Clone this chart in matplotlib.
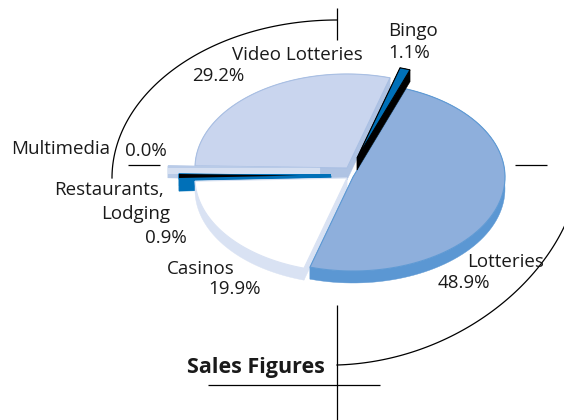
import matplotlib
matplotlib.use('Agg')
import matplotlib.pyplot as plt
import numpy as np

from matplotlib.patches import Polygon

# clockwise from the Lotteries slice
categories = ['Lotteries', 'Casinos', 'Restaurants', 'Multimedia', 'Video Lotteries', 'Bingo']
shares = [48.9, 19.9, 0.9, 0.0, 29.2, 1.1]

W, H = 564, 420
RX, RY, DEPTH = 152, 94, 12
START = 69.6

# slice -> (apex x, apex y, top colour, side colour, rim colour)
looks = {
    'Lotteries': (353, 177, '#8eafdc', '#5b97d3', '#5f9ad4'),
    'Casinos': (347, 178, '#ffffff', '#d9e2f3', '#d9e2f3'),
    'Restaurants': (331, 176, '#0070b8', '#0070b8', '#0070b8'),
    'Multimedia': (320, 168, '#d5dff1', '#b9cbe8', '#b9cbe8'),
    'Video Lotteries': (347, 168, '#c9d5ee', '#afc3e3', '#a9bfe3'),
    'Bingo': (357, 158, '#0070b8', '#000000', '#000000'),
}
draw_order = ['Video Lotteries', 'Multimedia', 'Restaurants', 'Casinos', 'Lotteries', 'Bingo']


def wedge_points(cx, cy, a0, a1):
    t = np.radians(np.linspace(a0, a1, 80))
    x = cx + RX * np.cos(t)
    y = cy - RY * np.sin(t)
    return np.column_stack([np.r_[cx, x], np.r_[cy, y]])


def draw_slice(ax, pts, top, side, rim, depth=DEPTH):
    # sweep the outline downwards, one polygon per part so no seams show
    rim_pts = pts[1:]
    low = rim_pts[::-1] + [0, depth]
    ax.add_patch(Polygon(np.vstack([rim_pts, low]), fc=side, ec=side, lw=0.3))
    for q in (rim_pts[0], rim_pts[-1]):
        p = pts[0]
        ax.add_patch(Polygon([p, q, q + [0, depth], p + [0, depth]], fc=side, ec=side, lw=0.3))
    ax.add_patch(Polygon(pts, fc=top, ec=rim, lw=0.8))


fig = plt.figure(figsize=(W / 100, H / 100), dpi=100)
ax = fig.add_axes([0, 0, 1, 1])
ax.set_xlim(0, W)
ax.set_ylim(H, 0)
ax.axis('off')

edges = START - np.r_[0, np.cumsum(shares)] * 3.6
angles = dict(zip(categories, zip(edges[:-1], edges[1:])))

for name in draw_order:
    cx, cy, top, side, rim = looks[name]
    a0, a1 = angles[name]
    pts = wedge_points(cx, cy, a0, a1)
    draw_slice(ax, pts, top, side, rim)
    if name == 'Multimedia':
        # the empty slice only shows as a pale strip
        ax.fill([cx - RX, cx, cx, cx - RX], [cy, cy, cy + 6, cy + 6], color=top, lw=0)
    if name == 'Restaurants':
        # blue strip with a black top edge fading out
        ax.fill([cx - RX, cx, cx, cx - RX], [cy - 2, cy - 2, cy + 2, cy + 5], color=top, lw=0)
        ax.fill([cx - RX, cx - 32, cx - RX], [cy - 2, cy - 0.5, cy + 2], color='black', lw=0)

# frame lines
line = dict(color='black', lw=0.9, solid_capstyle='butt')
ax.plot([337, 337], [8, 40], **line)
ax.plot([128, 160], [165, 165], **line)
ax.plot([515, 547], [165, 165], **line)
ax.plot([337, 337], [305, 420], **line)
ax.plot([208, 380], [385, 385], **line)

# big arcs, upper left and lower right
t = np.radians(np.linspace(90, 180, 100))
ax.plot(337 + 225 * np.cos(t), 178 - 158 * np.sin(t), color='black', lw=0.9)
u = np.linspace(0, 1, 100)[:, None]
ctrl = np.array([[337, 365], [440, 362], [530, 300], [565, 225]])
curve = (1 - u)**3 * ctrl[0] + 3 * u * (1 - u)**2 * ctrl[1] + 3 * u**2 * (1 - u) * ctrl[2] + u**3 * ctrl[3]
ax.plot(curve[:, 0], curve[:, 1], color='black', lw=0.9)

fam = ['Open Sans', 'DejaVu Sans']
txt = dict(family=fam, fontsize=13.5, color='#1a1a1a', va='center')
ax.text(297, 55, 'Video Lotteries', ha='center', **txt)
ax.text(192, 76, '29.2%', ha='left', **txt)
ax.text(388, 31, 'Bingo', ha='left', **txt)
ax.text(388, 53, '1.1%', ha='left', **txt)
ax.text(11, 149, 'Multimedia', ha='left', **txt)
ax.text(125, 151, '0.0%', ha='left', **txt)
ax.text(164, 190, 'Restaurants,', ha='right', **txt)
ax.text(170, 214, 'Lodging', ha='right', **txt)
ax.text(145, 238, '0.9%', ha='left', **txt)
ax.text(167, 269, 'Casinos', ha='left', **txt)
ax.text(208, 289, '19.9%', ha='left', **txt)
ax.text(467, 262, 'Lotteries', ha='left', **txt)
ax.text(438, 283, '48.9%', ha='left', **txt)
ax.text(187, 367, 'Sales Figures', ha='left', family=fam, fontsize=15.5,
        fontweight='bold', color='#1a1a1a', va='center')

fig.savefig('out.png', dpi=100)
